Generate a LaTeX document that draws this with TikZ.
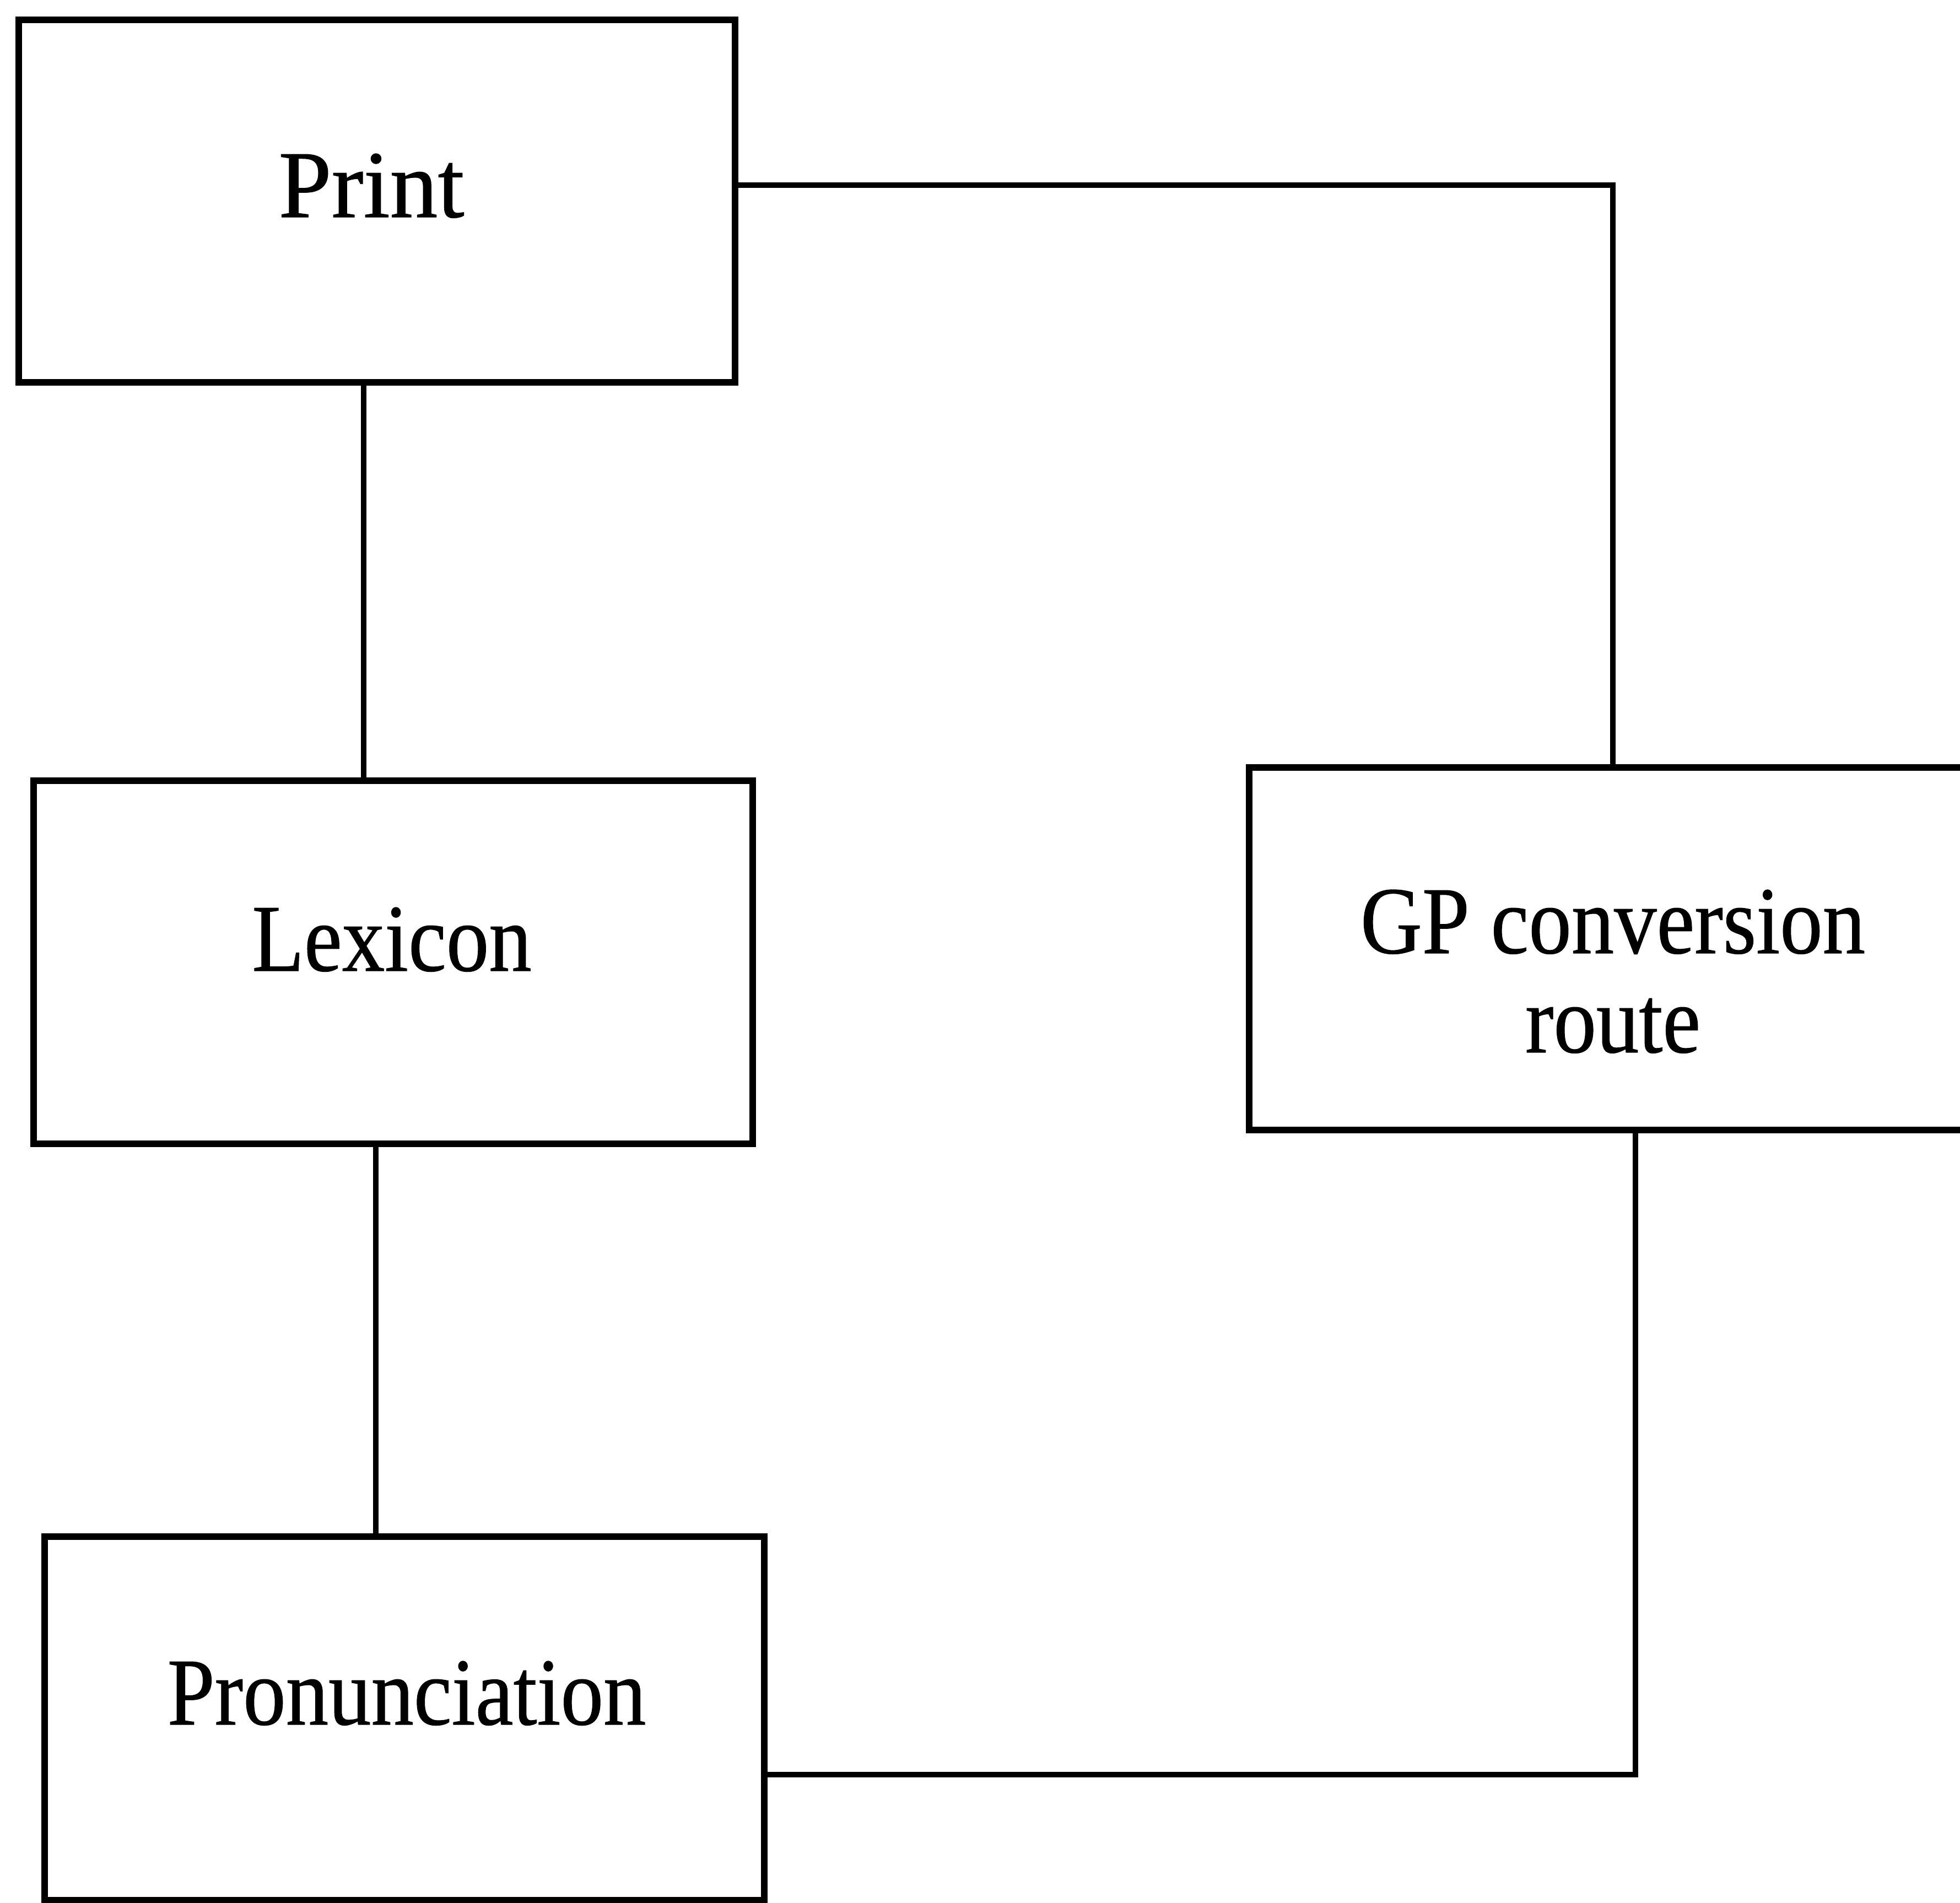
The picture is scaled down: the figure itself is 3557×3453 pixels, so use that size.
\documentclass[tikz,border=0pt]{standalone}
\usepackage{fontspec}
\usepackage{graphicx}
\setmainfont{Liberation Serif}[FakeStretch=0.89,FakeBold=0.6]
\begin{document}
\begin{tikzpicture}[x=0.1pt,y=-0.1pt,
  box/.style={draw=black,line width=1.2pt,rectangle,inner sep=0pt,outer sep=0pt},
  lbl/.style={anchor=base,inner sep=0pt,font=\fontsize{17.4pt}{18pt}\selectfont,align=center},
  conn/.style={draw=black,line width=0.95pt}]
\clip (0,0) rectangle (3557,3453);
\fill[white] (0,0) rectangle (3557,3453);
% boxes
\node[box,minimum width=130pt,minimum height=65.8pt] (print) at (684,365) {};
\node[box,minimum width=130.5pt,minimum height=65.9pt] (lex) at (713.5,1746.5) {};
\node[box,minimum width=130.6pt,minimum height=66pt] (pron) at (734,3119) {};
\node[box,minimum width=132pt,minimum height=65.8pt] (gp) at (2927,1722) {};
% labels
\node[lbl] (printT) at (674,394) {\scalebox{1.12}[1]{Print}};
\node[lbl] (lexT) at (711,1762) {Lexicon};
\node[lbl] (pronT) at (738,3130) {Pronunciation};
\node[lbl] (gpT) at (2927,1910) {GP conversion\\route};
% connectors
\draw[conn] ([yshift=2.9pt]print.east) -| (gp.north);
\draw[conn] ([xshift=-2.4pt]print.south) -- ([xshift=-2.4pt]print.south |- lex.north);
\draw[conn] ([xshift=-3.15pt]lex.south) -- ([xshift=-3.15pt]lex.south |- pron.north);
\draw[conn] ([xshift=4.1pt]gp.south) |- ([yshift=-10.2pt]pron.east);
\end{tikzpicture}
\end{document}
